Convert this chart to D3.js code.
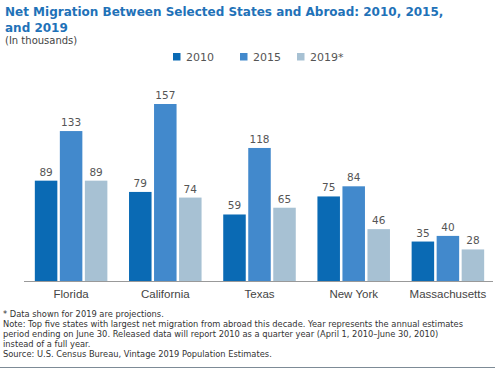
<!DOCTYPE html>
<html>
<head>
<meta charset="utf-8">
<script src="https://cdn.jsdelivr.net/npm/d3@7"></script>
<style>
	body { margin: 0; background: #fff; }
	svg { display: block; font-family: "DejaVu Sans", sans-serif; }
	.title { font-weight: bold; font-size: 12px; fill: #1f72b8; }
	.sub { font-size: 10px; fill: #444; }
	.val { font-size: 10.5px; fill: #555; }
	.cat { font-size: 11.5px; fill: #444; }
	.leg { font-size: 11px; fill: #555; }
	.note { font-size: 8.3px; fill: #333; }
</style>
</head>
<body>
<svg id="chart" width="495" height="371"></svg>
<script>
(function () {
	//DATA
	var states = ["Florida", "California", "Texas", "New York", "Massachusetts"];
	var years = ["2010", "2015", "2019"];
	var yearLabels = ["2010", "2015", "2019*"];
	var v2010 = [89, 79, 59, 75, 35];
	var v2015 = [133, 157, 118, 84, 40];
	var v2019 = [89, 74, 65, 46, 28];
	var colors = ["#0a6ab4", "#4289cc", "#a7c1d3"];
	var notes = [
		"* Data shown for 2019 are projections.",
		"Note: Top five states with largest net migration from abroad this decade. Year represents the annual estimates",
		"period ending on June 30. Released data will report 2010 as a quarter year (April 1, 2010\u2013June 30, 2010)",
		"instead of a full year.",
		"Source: U.S. Census Bureau, Vintage 2019 Population Estimates."
	];

	var series = [v2010, v2015, v2019];
	var rows = states.map(function (s, i) {
		return { state: s, values: series.map(function (v, j) { return { year: years[j], value: v[i] } }) };
	});

	var svg = d3.select("#chart");

	//TITLE
	svg.append("text").attr("class", "title").attr("x", 5).attr("y", 16)
		.text("Net Migration Between Selected States and Abroad: 2010, 2015,");
	svg.append("text").attr("class", "title").attr("x", 5).attr("y", 31.5)
		.text("and 2019");
	svg.append("text").attr("class", "sub").attr("x", 5).attr("y", 44)
		.text("(In thousands)");

	//SCALES
	var x0 = d3.scaleBand().domain(states).range([24, 495]).paddingInner(0.23).paddingOuter(0.115);
	var x1 = d3.scaleBand().domain(years).range([0, x0.bandwidth()]).paddingInner(0.1);
	var y = d3.scaleLinear().domain([0, 157]).range([281, 104]);

	//BARS
	var groups = svg.selectAll("g.state").data(rows).enter().append("g")
		.attr("class", "state")
		.attr("transform", function (d) { return "translate(" + x0(d.state) + ",0)" });

	groups.selectAll("rect").data(function (d) { return d.values }).enter().append("rect")
		.attr("x", function (d) { return x1(d.year) })
		.attr("y", function (d) { return y(d.value) })
		.attr("width", x1.bandwidth())
		.attr("height", function (d) { return y(0) - y(d.value) })
		.style("fill", function (d, i) { return colors[i] });

	groups.selectAll("text.val").data(function (d) { return d.values }).enter().append("text")
		.attr("class", "val")
		.attr("x", function (d) { return x1(d.year) + x1.bandwidth() / 2 })
		.attr("y", function (d) { return y(d.value) - 5 })
		.attr("text-anchor", "middle")
		.text(function (d) { return d.value });

	//AXIS
	var axis = svg.append("g").attr("transform", "translate(0," + y(0) + ")")
		.call(d3.axisBottom(x0).tickSize(0).tickPadding(9));
	axis.select(".domain").attr("stroke", "#999").attr("d", "M24,0.5H493");
	axis.selectAll("text").attr("class", "cat").attr("font-family", null).attr("font-size", null);

	//LEGEND
	var legX = [173, 240, 297];
	var leg = svg.selectAll("g.legend").data(yearLabels).enter().append("g")
		.attr("class", "legend")
		.attr("transform", function (d, i) { return "translate(" + legX[i] + ",53)" });
	leg.append("rect").attr("width", 7.5).attr("height", 7.5)
		.style("fill", function (d, i) { return colors[i] });
	leg.append("text").attr("class", "leg").attr("x", 13).attr("y", 8).text(function (d) { return d });

	//NOTES
	svg.selectAll("text.note").data(notes).enter().append("text")
		.attr("class", "note")
		.attr("x", 3)
		.attr("y", function (d, i) { return 316.5 + 10 * i })
		.text(function (d) { return d });

	svg.append("line").attr("x1", 0).attr("x2", 495).attr("y1", 367.5).attr("y2", 367.5)
		.attr("stroke", "#7d8b96").attr("stroke-width", 1);
})();
</script>
</body>
</html>
